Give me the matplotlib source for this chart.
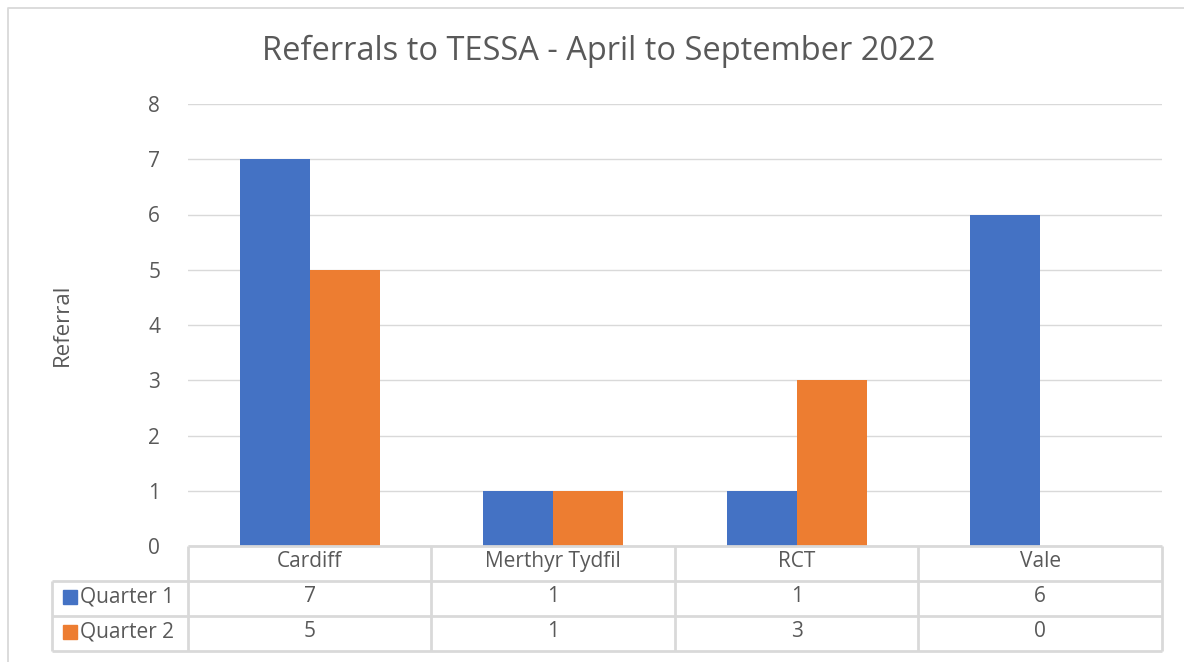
import matplotlib
matplotlib.use("Agg")
import matplotlib.pyplot as plt
from matplotlib.patches import Rectangle

# data
areas = ["Cardiff", "Merthyr Tydfil", "RCT", "Vale"]
series_names = ["Quarter 1", "Quarter 2"]
quarter1 = [7, 1, 1, 6]
quarter2 = [5, 1, 3, 0]
y_ticks = [0, 1, 2, 3, 4, 5, 6, 7, 8]

BLUE = "#4472C4"
ORANGE = "#ED7D31"
TXT = "#595959"
GRID = "#D9D9D9"
FONT = "Open Sans"
FS = 15

W, H = 1184, 662
fig = plt.figure(figsize=(W / 100, H / 100), dpi=100)


def px_box(x0, y0, x1, y1):
    """pixel box (top-left origin) -> figure fraction [l, b, w, h]"""
    return [x0 / W, 1 - y1 / H, (x1 - x0) / W, (y1 - y0) / H]


# outer chart frame (left + top edges visible)
frame = fig.add_axes([0, 0, 1, 1])
frame.set_xlim(0, W)
frame.set_ylim(H, 0)
frame.axis("off")
frame.plot([7.5, 7.5, W], [H, 7.5, 7.5], color=GRID, lw=1.3)

# ---- bar area ----
ax = fig.add_axes(px_box(188, 104, 1162, 546))
n = len(areas)
bw = 0.2875
xs = list(range(n))
ax.bar([x - bw / 2 for x in xs], quarter1, width=bw, color=BLUE, zorder=3)
ax.bar([x + bw / 2 for x in xs], quarter2, width=bw, color=ORANGE, zorder=3)
ax.set_xlim(-0.5, n - 0.5)
ax.set_ylim(0, 8)
ax.set_yticks(y_ticks)
ax.set_yticklabels([str(t) for t in y_ticks], color=TXT, fontsize=FS,
                   family=FONT)
ax.tick_params(axis="y", length=0, pad=20)
ax.set_xticks([])
ax.grid(axis="y", color=GRID, lw=1, zorder=0)
for s in ax.spines.values():
    s.set_visible(False)
ax.set_ylabel("Referral", color=TXT, fontsize=16, family=FONT, labelpad=54)

fig.text(599 / W, 1 - 51 / H, "Referrals to TESSA - April to September 2022",
         ha="center", va="center", fontsize=23.5, color=TXT, family=FONT)

# ---- data table under the bars ----
unit_px = (1162 - 188) / n
left_unit = -0.5 - 136 / unit_px
tab = fig.add_axes(px_box(52, 546, 1162, 651))
tab.set_xlim(left_unit, n - 0.5)
tab.set_ylim(3, 0)
tab.axis("off")
lk = dict(color=GRID, lw=2, clip_on=False, solid_capstyle="butt")
tab.plot([-0.5, n - 0.5], [0, 0], **lk)
for yy in (1, 2, 3):
    tab.plot([left_unit, n - 0.5], [yy, yy], **lk)
tab.plot([left_unit, left_unit], [1, 3], **lk)
for i in range(n + 1):
    tab.plot([i - 0.5, i - 0.5], [0, 3], **lk)

for i, name in enumerate(areas):
    tab.text(i, 0.45, name, ha="center", va="center", fontsize=FS,
             color=TXT, family=FONT)
    tab.text(i, 1.45, str(quarter1[i]), ha="center", va="center",
             fontsize=FS, color=TXT, family=FONT)
    tab.text(i, 2.45, str(quarter2[i]), ha="center", va="center",
             fontsize=FS, color=TXT, family=FONT)

key_w = 14 / unit_px
for r, (name, col) in enumerate(zip(series_names, [BLUE, ORANGE])):
    kx = left_unit + 11 / unit_px
    tab.add_patch(Rectangle((kx, r + 1.25), key_w, 0.4, color=col,
                            clip_on=False))
    tab.text(kx + key_w + 3 / unit_px, r + 1.45, name, ha="left",
             va="center", fontsize=FS, color=TXT, family=FONT)

fig.savefig("out.png", dpi=100)
